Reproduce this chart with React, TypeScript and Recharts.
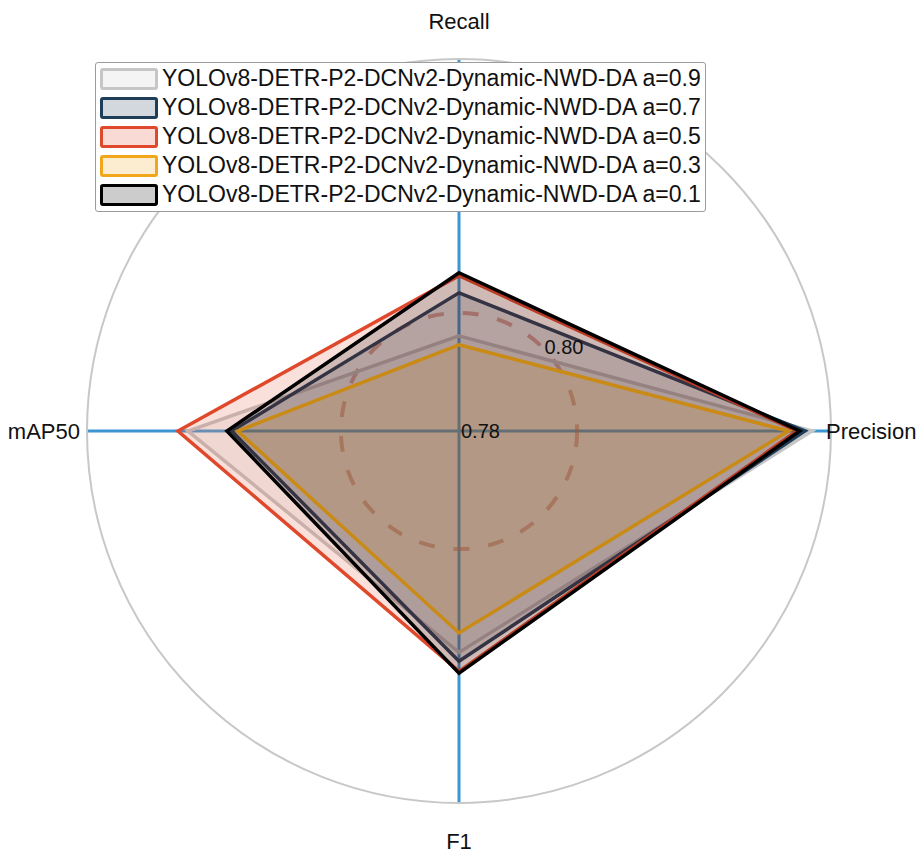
import {
  RadarChart,
  Radar,
  PolarGrid,
  PolarAngleAxis,
  PolarRadiusAxis,
  Legend,
} from "recharts";

const metrics = ["Recall", "Precision", "F1", "mAP50"];

// one list per alpha setting, in metric order
const a09 = [0.7961, 0.8398, 0.8175, 0.8259];
const a07 = [0.8034, 0.8386, 0.819, 0.8185];
const a05 = [0.8063, 0.8372, 0.8207, 0.8276];
const a03 = [0.7946, 0.8358, 0.8142, 0.8175];
const a01 = [0.8068, 0.8377, 0.821, 0.8193];

const radiusTicks = [0.78, 0.8];
const R_MIN = 0.78;
const R_MAX = 0.843;

const series = [
  { key: "a09", name: "YOLOv8-DETR-P2-DCNv2-Dynamic-NWD-DA a=0.9", color: "#c6c6c6", values: a09 },
  { key: "a07", name: "YOLOv8-DETR-P2-DCNv2-Dynamic-NWD-DA a=0.7", color: "#1e3d59", values: a07 },
  { key: "a05", name: "YOLOv8-DETR-P2-DCNv2-Dynamic-NWD-DA a=0.5", color: "#e0482b", values: a05 },
  { key: "a03", name: "YOLOv8-DETR-P2-DCNv2-Dynamic-NWD-DA a=0.3", color: "#f2a71b", values: a03 },
  { key: "a01", name: "YOLOv8-DETR-P2-DCNv2-Dynamic-NWD-DA a=0.1", color: "#000000", values: a01 },
];

const data = metrics.map((metric, i) => {
  const row: Record<string, string | number> = { metric };
  series.forEach((s) => {
    row[s.key] = s.values[i];
  });
  return row;
});

const FONT = "'Liberation Sans', Arial, Helvetica, sans-serif";
const CX = 459;
const CY = 431;
const OUTER_R = 372;
const FILL_ALPHA = 0.17;

function withAlpha(hex: string, a: number) {
  const n = parseInt(hex.slice(1), 16);
  return `rgba(${(n >> 16) & 255}, ${(n >> 8) & 255}, ${n & 255}, ${a})`;
}

const labelShift: Record<string, { dx: number; dy: number; anchor: string }> = {
  Recall: { dx: 0, dy: -30, anchor: "middle" },
  Precision: { dx: -13, dy: 0, anchor: "start" },
  F1: { dx: 0, dy: 30, anchor: "middle" },
  mAP50: { dx: 1, dy: 0, anchor: "end" },
};

function AngleTick(props: any) {
  const { x, y, payload } = props;
  const s = labelShift[payload.value] || { dx: 0, dy: 0, anchor: "middle" };
  return (
    <text
      x={x + s.dx}
      y={y + s.dy}
      textAnchor={s.anchor}
      dominantBaseline="central"
      fontFamily={FONT}
      fontSize={22}
      fill="#111"
    >
      {payload.value}
    </text>
  );
}

function RadiusTick(props: any) {
  const { x, y, payload } = props;
  const v = Number(payload.value);
  if (!radiusTicks.some((t) => Math.abs(t - v) < 1e-6)) return null;
  return (
    <text
      x={x + 2}
      y={y}
      textAnchor="start"
      dominantBaseline="central"
      fontFamily={FONT}
      fontSize={20}
      fill="#111"
    >
      {v.toFixed(2)}
    </text>
  );
}

function LegendBox() {
  return (
    <div
      style={{
        border: "1px solid #9c9c9c",
        borderRadius: 3,
        background: "#fff",
        padding: "1px 4px 2px 4px",
        fontFamily: FONT,
        fontSize: 23,
        color: "#111",
        boxSizing: "border-box",
      }}
    >
      {series.map((s) => (
        <div
          key={s.key}
          style={{ display: "flex", alignItems: "center", height: 29, whiteSpace: "nowrap" }}
        >
          <span
            style={{
              display: "inline-block",
              boxSizing: "border-box",
              width: 58,
              height: 22,
              border: `3.5px solid ${s.color}`,
              borderRadius: 3,
              background: withAlpha(s.color, 0.2),
              marginRight: 4,
            }}
          />
          <span>{s.name}</span>
        </div>
      ))}
    </div>
  );
}

export default function App() {
  const dashedR = (OUTER_R * (0.8 - R_MIN)) / (R_MAX - R_MIN);
  return (
    <div style={{ position: "absolute", left: 0, top: 0, width: 921, height: 856, background: "#fff" }}>
      <RadarChart
        width={921}
        height={856}
        data={data}
        cx={CX}
        cy={CY}
        outerRadius={OUTER_R}
        margin={{ top: 0, right: 0, bottom: 0, left: 0 }}
      >
        <PolarGrid
          gridType="circle"
          polarRadius={[]}
          radialLines
          stroke="#3b96d2"
          strokeWidth={3}
        />
        <PolarGrid
          gridType="circle"
          polarRadius={[OUTER_R]}
          radialLines={false}
          stroke="#c8c8c8"
          strokeWidth={2}
        />
        <PolarAngleAxis
          dataKey="metric"
          tick={AngleTick}
          tickLine={false}
          axisLine={false}
        />
        <PolarRadiusAxis
          angle={45}
          type="number"
          scale="linear"
          domain={[R_MIN, R_MAX]}
          allowDataOverflow
          allowDecimals
          tickCount={4}
          ticks={radiusTicks as any}
          tick={RadiusTick}
          axisLine={false}
          tickLine={false}
        />
        {series.map((s) => (
          <Radar
            key={s.key}
            name={s.name}
            dataKey={s.key}
            stroke={s.color}
            strokeWidth={3.5}
            strokeLinejoin="miter"
            fill={s.color}
            fillOpacity={FILL_ALPHA}
            dot={false}
            isAnimationActive={false}
          />
        ))}
        <PolarGrid
          gridType="circle"
          polarRadius={[dashedR]}
          radialLines={false}
          stroke="#c4604e"
          strokeOpacity={0.55}
          strokeWidth={4}
          strokeDasharray="16 19"
        />
        <Legend
          content={LegendBox}
          wrapperStyle={{ position: "absolute", left: 95, top: 62, width: 611, height: 150 }}
        />
      </RadarChart>
    </div>
  );
}
